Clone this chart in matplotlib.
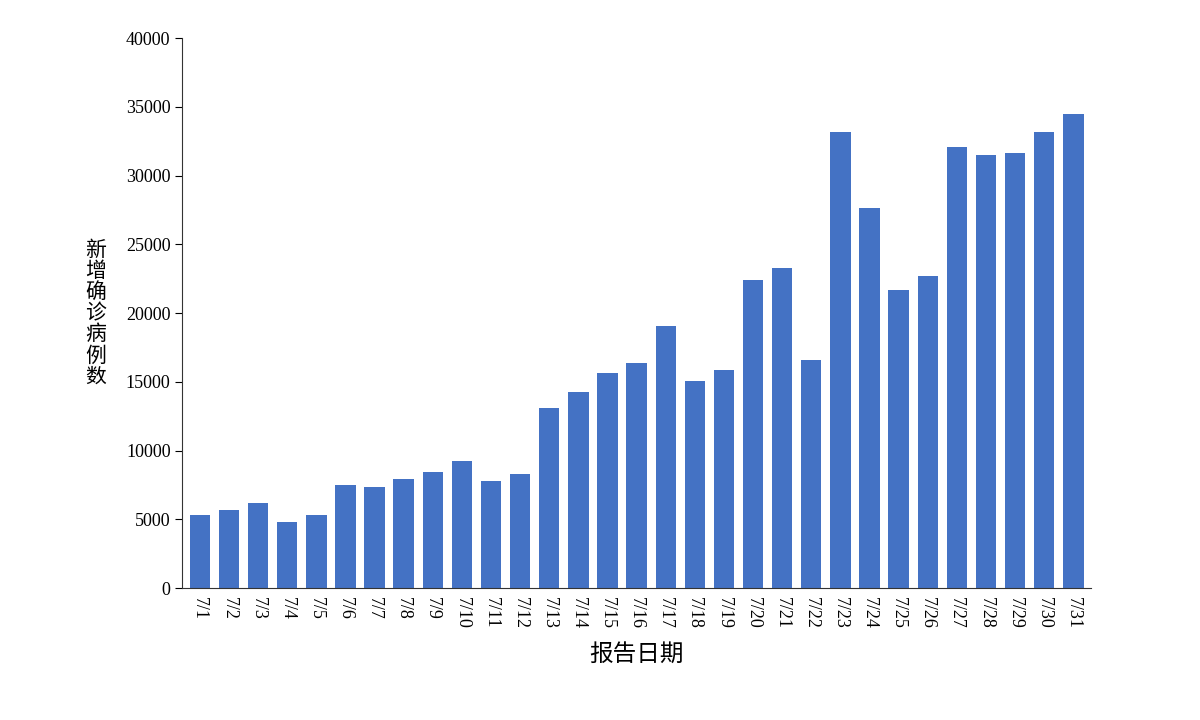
import matplotlib
matplotlib.use("Agg")
import matplotlib.pyplot as plt

dates = [f"7/{d}" for d in range(1, 32)]
values = [5300, 5670, 6180, 4800, 5300, 7490, 7350, 7930, 8440, 9240, 7780, 8290,
          13090, 14250, 15640, 16360, 19050, 15050, 15850, 22400, 23270, 16580,
          33160, 27640, 21670, 22690, 32070, 31490, 31640, 33160, 34470]

fig = plt.figure(figsize=(12, 7.2), dpi=100)
ax = fig.add_axes([0.152, 0.183, 0.757, 0.764])
x = range(len(dates))
ax.bar(x, values, width=0.7, color="#4472C4")
ax.set_xlim(-0.6, len(dates) - 0.4)
ax.set_ylim(0, 40000)
ax.set_yticks(range(0, 40001, 5000))
ax.set_xticks(list(x))
ax.set_xticklabels(dates, rotation=-90, family="Liberation Serif", fontsize=13)
for t in ax.get_yticklabels():
    t.set_family("Liberation Serif"); t.set_fontsize(13)
ax.tick_params(axis="x", length=0, pad=6)
ax.tick_params(axis="y", length=5, direction="out")
for s in ["top", "right"]:
    ax.spines[s].set_visible(False)
ax.spines["left"].set_color("#333333")
ax.spines["bottom"].set_color("#333333")
ax.set_ylabel("\n".join("新增确诊病例数"), rotation=0, family=["Noto Sans CJK SC", "DejaVu Sans"],
              fontsize=15, linespacing=0.95, va="center", labelpad=22)
ax.set_xlabel("报告日期", family=["Noto Sans CJK SC", "DejaVu Sans"], fontsize=17, labelpad=10)
fig.savefig("out.png")
